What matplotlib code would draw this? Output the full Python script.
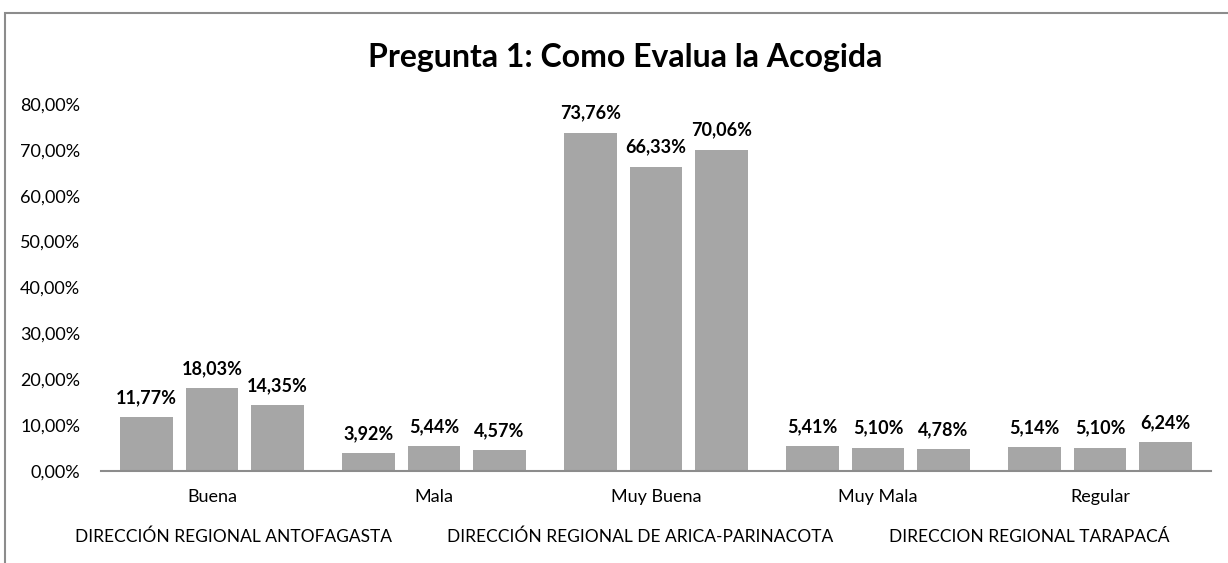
import matplotlib.pyplot as plt
from matplotlib.patches import Rectangle
import numpy as np

# Data
categorias = ["Buena", "Mala", "Muy Buena", "Muy Mala", "Regular"]
series = ["DIRECCIÓN REGIONAL ANTOFAGASTA",
          "DIRECCIÓN REGIONAL DE ARICA-PARINACOTA",
          "DIRECCION REGIONAL TARAPACÁ"]
antofagasta = [11.77, 3.92, 73.76, 5.41, 5.14]
arica = [18.03, 5.44, 66.33, 5.10, 5.10]
tarapaca = [14.35, 4.57, 70.06, 4.78, 6.24]
y_ticks = [0, 10, 20, 30, 40, 50, 60, 70, 80]

plt.rcParams['font.family'] = ['Lato', 'DejaVu Sans']

def pct(v):
    return f"{v:.2f}%".replace('.', ',')

fig = plt.figure(figsize=(12.28, 5.63), dpi=100)
ax = fig.add_axes([101/1228, 92/563, 1110/1228, 367/563])

# chart frame (gray border, runs off the right and bottom)
fig.patches.append(Rectangle((5/1228, -0.1), 1.2, 1.1 - 13/563,
                             transform=fig.transFigure, fill=False,
                             edgecolor='#8c8c8c', linewidth=1.5))

x = np.arange(len(categorias))
w = 0.235
step = 0.295
bars = []
for i, vals in enumerate([antofagasta, arica, tarapaca]):
    b = ax.bar(x + (i - 1) * step, vals, width=w, color='#a6a6a6', label=series[i])
    ax.bar_label(b, labels=[pct(v) for v in vals], padding=8,
                 fontsize=13, fontweight='bold', color='black')
    bars.append(b)

ax.set_xlim(-0.5, 4.5)
ax.set_ylim(0, 80)
ax.set_yticks(y_ticks)
ax.set_yticklabels([pct(t) for t in y_ticks], fontsize=13)
ax.set_xticks(x)
ax.set_xticklabels(categorias, fontsize=13)
ax.tick_params(axis='y', length=0, pad=15)
ax.tick_params(axis='x', length=0, pad=13)
for s in ['top', 'right', 'left']:
    ax.spines[s].set_visible(False)
ax.spines['bottom'].set_color('#8c8c8c')
ax.spines['bottom'].set_linewidth(1.5)

fig.text(625/1228, 1 - 57/563, "Pregunta 1: Como Evalua la Acogida",
         ha='center', va='center', fontsize=23, fontweight='bold')

fig.legend(handles=bars, labels=series, loc='center',
           bbox_to_anchor=(622/1228, 1 - 537/563), ncol=3, frameon=False,
           handlelength=0, handletextpad=0, columnspacing=3.2, fontsize=12.5)

fig.savefig("out.png", dpi=100)
